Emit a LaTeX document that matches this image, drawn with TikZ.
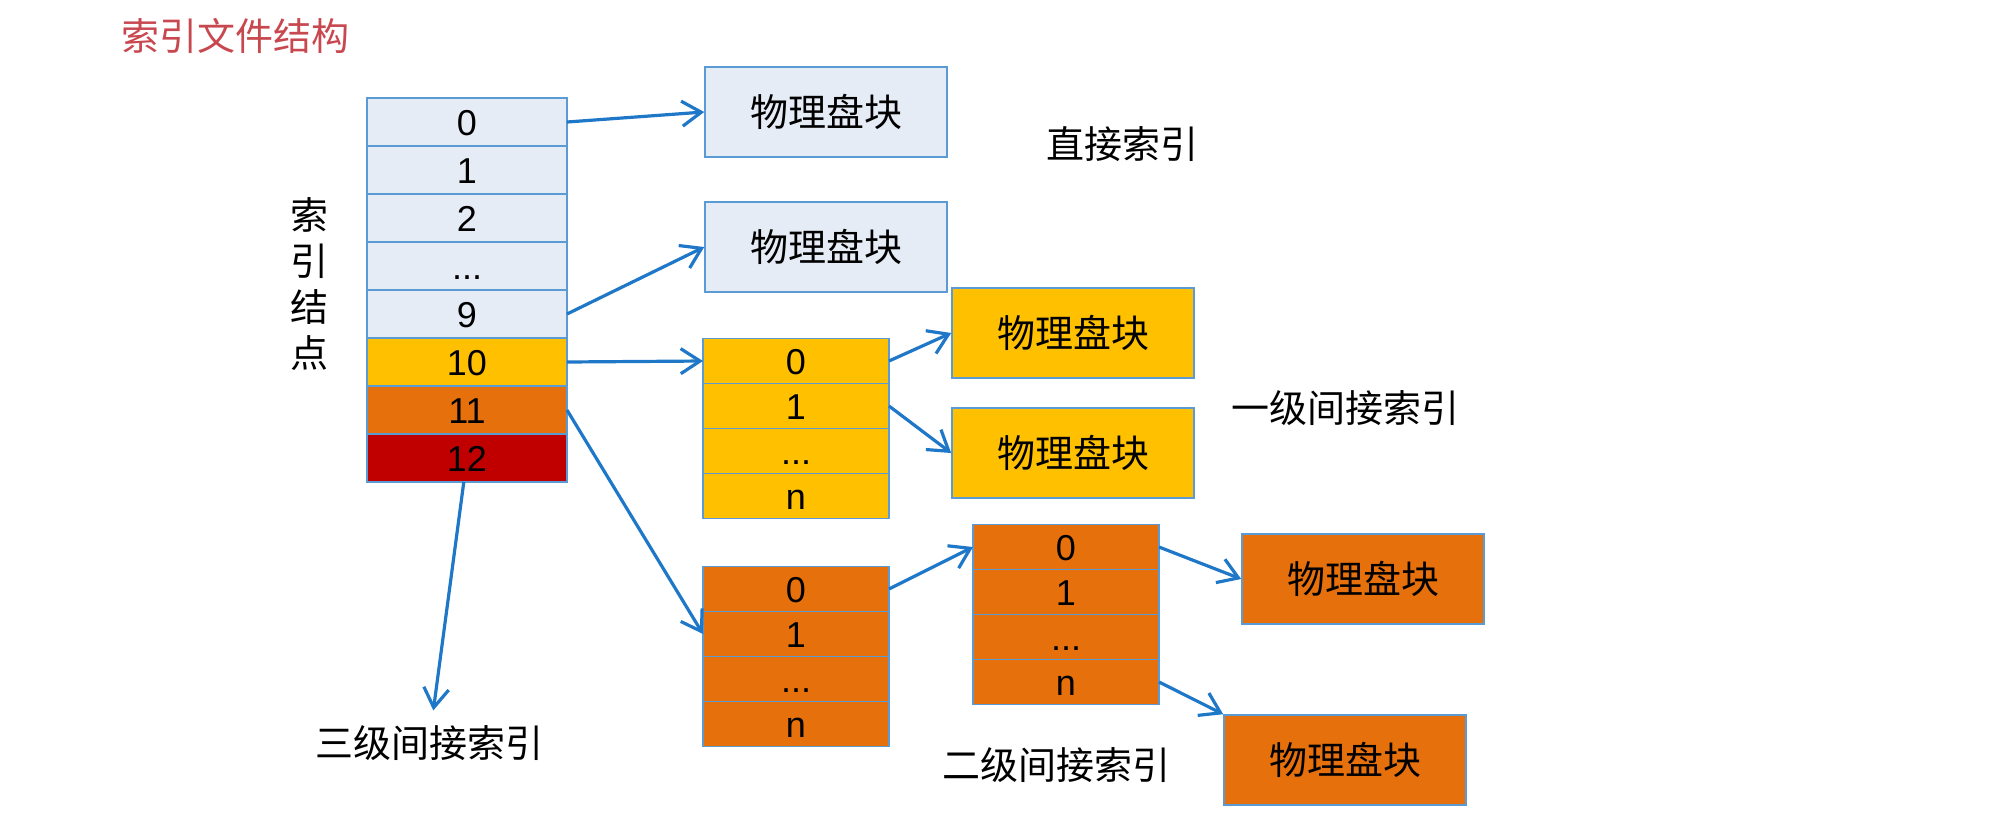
\documentclass[tikz,border=0pt]{standalone}
\usepackage{fontspec}
\setmainfont{Liberation Sans}
\newfontfamily\cjk{Noto Sans CJK SC}
\usepackage{tikz}
\usepackage{xcolor}
\usetikzlibrary{arrows.meta, positioning}
\definecolor{cellblue}{HTML}{E6ECF6}
\definecolor{edgeblue}{HTML}{5B9BD5}
\definecolor{arrowblue}{HTML}{1F77C8}
\definecolor{cellyellow}{HTML}{FFC000}
\definecolor{cellorange}{HTML}{E6700C}
\definecolor{celldark}{HTML}{C00000}
\definecolor{titlered}{HTML}{C8484F}

\begin{document}
\begin{tikzpicture}[
    x=0.5pt, y=-0.5pt,
    every node/.style={font=\fontsize{18}{22}\selectfont},
    cell/.style={rectangle, draw=edgeblue, line width=0.8pt, outer sep=0pt, inner sep=0pt, text height=13pt, text depth=0pt, minimum width=100pt, minimum height=24pt},
    sub/.style={cell, minimum width=93pt, minimum height=22.5pt},
    blk/.style={rectangle, draw=edgeblue, line width=0.8pt, minimum width=121pt, minimum height=45pt, font=\cjk\fontsize{19}{23}\selectfont},
    lbl/.style={font=\cjk\fontsize{19}{23}\selectfont},
    arr/.style={-{Straight Barb[length=3.4mm, width=4.4mm]}, line width=1.6pt, draw=arrowblue}
]
\useasboundingbox (0,0) rectangle (1999,826);

\node[lbl, text=titlered] (title) at (235,36) {索引文件结构};

\node[cell, fill=cellblue] (i0) at (467,122) {0};
\node[cell, fill=cellblue, below=0pt of i0] (i1) {1};
\node[cell, fill=cellblue, below=0pt of i1] (i2) {2};
\node[cell, fill=cellblue, below=0pt of i2] (idots) {...};
\node[cell, fill=cellblue, below=0pt of idots] (i9) {9};
\node[cell, fill=cellyellow, below=0pt of i9] (i10) {10};
\node[cell, fill=cellorange, below=0pt of i10] (i11) {11};
\node[cell, fill=celldark, below=0pt of i11] (i12) {12};

\node[lbl, align=center] (inode) at (309,284) {索\\引\\结\\点};

\node[blk, fill=cellblue] (blk1) at (826,112) {物理盘块};
\node[blk, fill=cellblue] (blk2) at (826,247) {物理盘块};
\node[lbl] (direct) at (1122,144) {直接索引};

\node[sub, fill=cellyellow] (y0) at (796,361) {0};
\node[sub, fill=cellyellow, below=0pt of y0] (y1) {1};
\node[sub, fill=cellyellow, below=0pt of y1] (ydots) {...};
\node[sub, fill=cellyellow, below=0pt of ydots] (yn) {n};

\node[blk, fill=cellyellow] (yblk1) at (1073,333) {物理盘块};
\node[blk, fill=cellyellow] (yblk2) at (1073,453) {物理盘块};
\node[lbl] (single) at (1345,408) {一级间接索引};

\node[sub, fill=cellorange] (a0) at (796,589) {0};
\node[sub, fill=cellorange, below=0pt of a0] (a1) {1};
\node[sub, fill=cellorange, below=0pt of a1] (adots) {...};
\node[sub, fill=cellorange, below=0pt of adots] (an) {n};

\node[sub, fill=cellorange] (b0) at (1066,547) {0};
\node[sub, fill=cellorange, below=0pt of b0] (b1) {1};
\node[sub, fill=cellorange, below=0pt of b1] (bdots) {...};
\node[sub, fill=cellorange, below=0pt of bdots] (bn) {n};

\node[blk, fill=cellorange] (oblk1) at (1363,579) {物理盘块};
\node[blk, fill=cellorange] (oblk2) at (1345,760) {物理盘块};
\node[lbl] (double) at (1056,765) {二级间接索引};

\node[lbl] (triple) at (429,743) {三级间接索引};

\draw[arr] (i0.east) -- (blk1.west);
\draw[arr] (i9.east) -- (blk2.west);
\draw[arr] (i10.east) -- (y0.west);
\draw[arr] (i11.east) -- (a1.west);
\draw[arr, shorten >=4pt] (i12) -- (triple);

\draw[arr] (y0.east) -- (yblk1.west);
\draw[arr] (y1.east) -- (yblk2.west);

\draw[arr] (a0.east) -- (b0.west);
\draw[arr] (b0.east) -- (oblk1.west);
\draw[arr] (bn.east) -- (oblk2.north west);

\end{tikzpicture}
\end{document}
